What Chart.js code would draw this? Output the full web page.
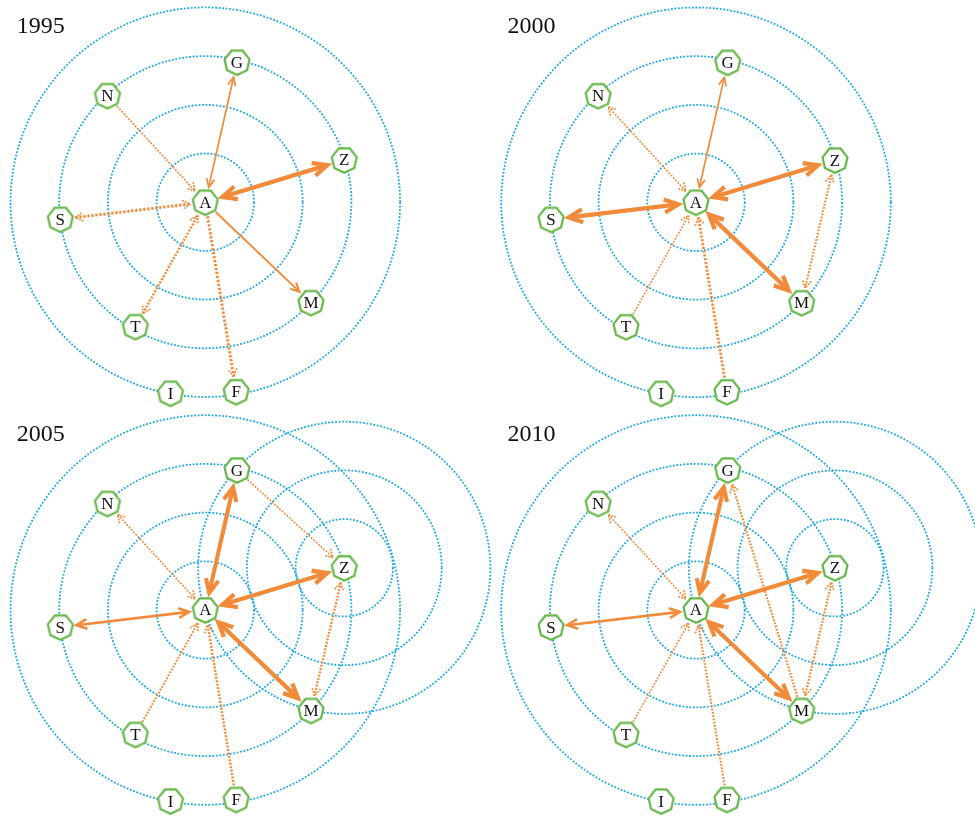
<!DOCTYPE html>
<html>
<head>
<meta charset="utf-8">
<script src="https://cdn.jsdelivr.net/npm/chart.js@4/dist/chart.umd.min.js"></script>
<style>
  html, body { margin: 0; padding: 0; background: #ffffff; }
  #wrap { position: relative; width: 975px; height: 816px; overflow: hidden; }
  #wrap canvas { position: absolute; left: 0; top: 0; }
</style>
</head>
<body>
<div id="wrap">
  <canvas id="c0" width="975" height="816"></canvas>
  <canvas id="c1" width="975" height="816"></canvas>
  <canvas id="c2" width="975" height="816"></canvas>
  <canvas id="c3" width="975" height="816"></canvas>
</div>
<script>
// ---- data ----
const years = ['1995', '2000', '2005', '2010'];

// node layout, in ring units relative to node A
const nodeNames = ['A', 'G', 'N', 'Z', 'S', 'M', 'T', 'I', 'F'];
const nodeX = [0, 0.651, -2.009, 2.854, -2.977, 2.170, -1.437, -0.715, 0.634];
const nodeY = [0, 2.874, 2.188, 0.867, -0.351, -2.063, -2.556, -3.924, -3.891];

// concentric rings: around A every year, around Z from 2005 on
const ringsA = [1, 2, 3, 4];
const ringsZ = [1, 2, 3];
const zRingYears = ['2005', '2010'];

// links: [from, to, weight, line kind, arrowheads ('both' or 'to')]
const edges1995 = [
  ['A', 'G', 1.0, 'solid', 'both'],
  ['A', 'Z', 3.0, 'solid', 'both'],
  ['A', 'M', 1.2, 'solid', 'to'],
  ['N', 'A', 1.1, 'dot', 'to'],
  ['S', 'A', 1.9, 'dot', 'both'],
  ['T', 'A', 1.6, 'dot', 'both'],
  ['A', 'F', 1.9, 'dot', 'to']
];
const edges2000 = [
  ['G', 'A', 1.0, 'solid', 'both'],
  ['Z', 'A', 2.9, 'solid', 'both'],
  ['S', 'A', 2.9, 'solid', 'both'],
  ['M', 'A', 3.0, 'solid', 'both'],
  ['N', 'A', 1.0, 'dot', 'both'],
  ['T', 'A', 1.0, 'dot', 'to'],
  ['F', 'A', 1.8, 'dot', 'to'],
  ['Z', 'M', 1.3, 'dot', 'both']
];
const edges2005 = [
  ['G', 'A', 2.8, 'solid', 'both'],
  ['Z', 'A', 3.0, 'solid', 'both'],
  ['M', 'A', 3.0, 'solid', 'both'],
  ['S', 'A', 1.7, 'solid', 'both'],
  ['N', 'A', 1.0, 'dot', 'both'],
  ['T', 'A', 1.3, 'dot', 'to'],
  ['F', 'A', 1.6, 'dot', 'to'],
  ['G', 'Z', 1.0, 'dot', 'to'],
  ['Z', 'M', 1.5, 'dot', 'both']
];
const edges2010 = [
  ['G', 'A', 2.8, 'solid', 'both'],
  ['Z', 'A', 3.0, 'solid', 'both'],
  ['M', 'A', 2.9, 'solid', 'both'],
  ['S', 'A', 1.7, 'solid', 'both'],
  ['N', 'A', 1.0, 'dot', 'both'],
  ['T', 'A', 1.0, 'dot', 'to'],
  ['F', 'A', 1.3, 'dot', 'to'],
  ['M', 'G', 1.4, 'dot', 'to'],
  ['Z', 'M', 1.4, 'dot', 'both']
];
const edgesByYear = [edges1995, edges2000, edges2005, edges2010];

// ---- presentation ----
const W = 975, H = 816;
const UNIT = 48.7;                       // pixels per ring
const panelCentres = [[205.3, 202.2], [696, 202.3], [205.3, 610], [696, 610]];
const ORANGE = '#f18a39';
const BLUE = '#1ba6e6';
const GREEN = '#67b649';
const NODE_R = 12.8;
const SERIF = '"Liberation Serif", "Times New Roman", serif';

// heptagon marker used as the point style
function makeHeptagon() {
  const c = document.createElement('canvas');
  c.width = 32; c.height = 32;
  const g = c.getContext('2d');
  g.beginPath();
  for (let k = 0; k < 7; k++) {
    const a = Math.PI / 2 + k * 2 * Math.PI / 7;
    const px = 16 + NODE_R * Math.cos(a), py = 16 + NODE_R * Math.sin(a);
    if (k === 0) g.moveTo(px, py); else g.lineTo(px, py);
  }
  g.closePath();
  g.fillStyle = '#ffffff';
  g.fill();
  g.lineWidth = 2.2;
  g.strokeStyle = GREEN;
  g.lineJoin = 'miter';
  g.stroke();
  return c;
}
const heptagon = makeHeptagon();

function nodePixel(chart, name) {
  const k = nodeNames.indexOf(name);
  return { x: chart.scales.x.getPixelForValue(nodeX[k]), y: chart.scales.y.getPixelForValue(nodeY[k]) };
}

function drawHead(ctx, tip, ux, uy, len, half) {
  const bx = -ux, by = -uy, c = Math.cos(half), s = Math.sin(half);
  ctx.beginPath();
  ctx.moveTo(tip.x + len * (bx * c - by * s), tip.y + len * (bx * s + by * c));
  ctx.lineTo(tip.x, tip.y);
  ctx.lineTo(tip.x + len * (bx * c + by * s), tip.y + len * (-bx * s + by * c));
  ctx.stroke();
}

function drawEdge(ctx, p, q, weight, kind, heads) {
  const w = 0.4 + 1.3 * weight;
  const dotted = kind === 'dot';
  const dx = q.x - p.x, dy = q.y - p.y, L = Math.hypot(dx, dy);
  const ux = dx / L, uy = dy / L;
  const half = (dotted ? 30 : 25) * Math.PI / 180;
  const headW = dotted ? Math.min(w, 1.7) : w;
  const headLen = dotted ? 9 : 5 + 2.5 * w;
  const tipOff = NODE_R + 1 + headW / (2 * Math.sin(half)) * 0.8;
  const plainOff = NODE_R + 1.5;
  const both = heads === 'both';
  const a = { x: p.x + ux * (both ? tipOff : plainOff), y: p.y + uy * (both ? tipOff : plainOff) };
  const b = { x: q.x - ux * tipOff, y: q.y - uy * tipOff };
  ctx.save();
  ctx.strokeStyle = ORANGE;
  ctx.lineWidth = w;
  ctx.lineCap = 'butt';
  ctx.lineJoin = 'miter';
  ctx.setLineDash(dotted ? [Math.max(1.8, w * 0.8), Math.max(1.5, w * 0.6)] : []);
  ctx.beginPath();
  ctx.moveTo(a.x, a.y);
  ctx.lineTo(b.x, b.y);
  ctx.stroke();
  ctx.lineWidth = headW;
  ctx.setLineDash(dotted ? [1.8, 1.2] : []);
  drawHead(ctx, b, ux, uy, headLen, half);
  if (both) drawHead(ctx, a, -ux, -uy, headLen, half);
  ctx.restore();
}

// rings, links and the year caption go underneath the node markers
const networkUnderlay = {
  id: 'networkUnderlay',
  beforeDatasetsDraw(chart) {
    const ctx = chart.ctx;
    const i = chart.options.plugins.networkUnderlay.panel;
    const year = years[i];
    const xs = chart.scales.x;

    ctx.save();
    ctx.strokeStyle = BLUE;
    ctx.lineWidth = 1.8;
    ctx.setLineDash([1.8, 1.7]);
    const centres = zRingYears.includes(year) ? [['A', ringsA], ['Z', ringsZ]] : [['A', ringsA]];
    centres.forEach(([name, rings]) => {
      const c = nodePixel(chart, name);
      const k = nodeNames.indexOf(name);
      rings.forEach(r => {
        const rp = xs.getPixelForValue(nodeX[k] + r) - xs.getPixelForValue(nodeX[k]);
        ctx.beginPath();
        ctx.arc(c.x, c.y, rp, 0, Math.PI * 2);
        ctx.stroke();
      });
    });
    ctx.restore();

    edgesByYear[i].forEach(([f, t, wgt, kind, heads]) => {
      drawEdge(ctx, nodePixel(chart, f), nodePixel(chart, t), wgt, kind, heads);
    });

    const a = nodePixel(chart, 'A');
    ctx.save();
    ctx.fillStyle = '#111111';
    ctx.font = '24px ' + SERIF;
    ctx.textBaseline = 'alphabetic';
    ctx.textAlign = 'left';
    ctx.fillText(year, a.x - 188.5, a.y - 169);
    ctx.restore();
  },
  afterDatasetsDraw(chart) {
    const ctx = chart.ctx;
    const meta = chart.getDatasetMeta(0);
    ctx.save();
    ctx.fillStyle = '#111111';
    ctx.font = '17px ' + SERIF;
    ctx.textAlign = 'center';
    ctx.textBaseline = 'middle';
    meta.data.forEach((el, k) => {
      ctx.fillText(nodeNames[k], el.x, el.y + 1);
    });
    ctx.restore();
  }
};

years.forEach((year, i) => {
  const [cx, cy] = panelCentres[i];
  new Chart(document.getElementById('c' + i), {
    type: 'scatter',
    data: {
      datasets: [{
        label: year,
        data: nodeNames.map((n, k) => ({ x: nodeX[k], y: nodeY[k] })),
        pointStyle: heptagon,
        pointRadius: 13,
        pointHoverRadius: 13
      }]
    },
    options: {
      responsive: false,
      animation: false,
      events: [],
      layout: { padding: 0, autoPadding: false },
      scales: {
        x: { type: 'linear', display: false, bounds: 'data', min: -cx / UNIT, max: (W - cx) / UNIT },
        y: { type: 'linear', display: false, bounds: 'data', min: (cy - H) / UNIT, max: cy / UNIT }
      },
      plugins: {
        legend: { display: false },
        tooltip: { enabled: false },
        networkUnderlay: { panel: i }
      }
    },
    plugins: [networkUnderlay]
  });
});
</script>
</body>
</html>
